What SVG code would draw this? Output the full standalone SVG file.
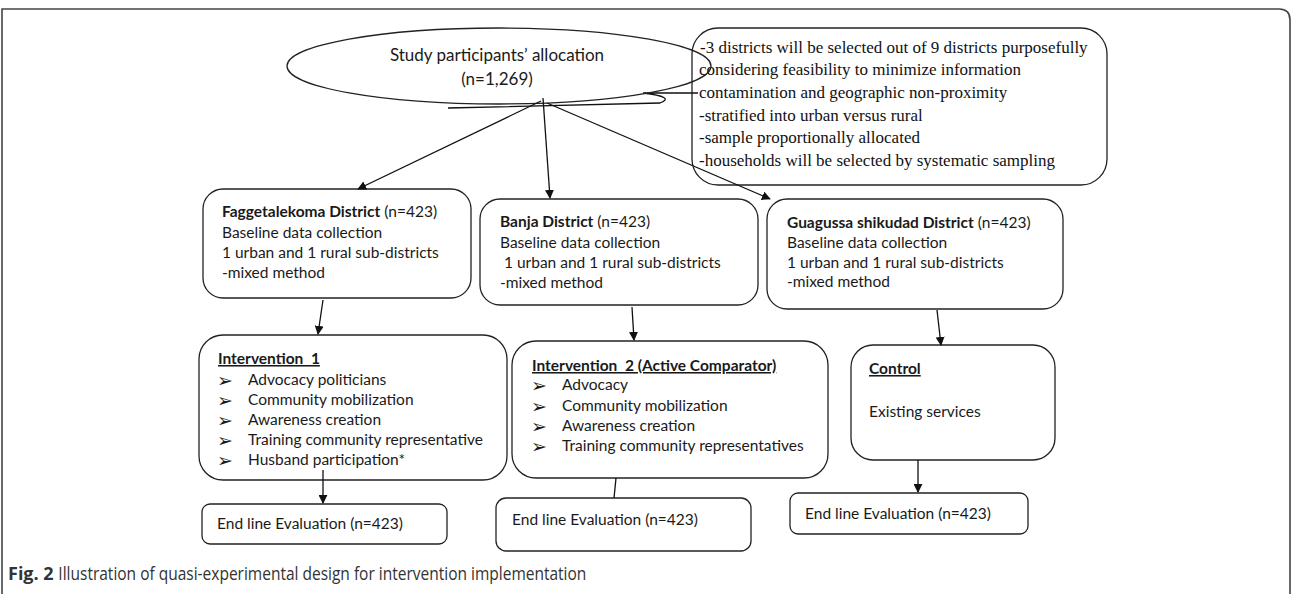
<svg xmlns="http://www.w3.org/2000/svg" width="1292" height="594" viewBox="0 0 1292 594">
<style>
  .box{fill:#fff;stroke:#222;stroke-width:1.3}
  .open{fill:none;stroke:#222;stroke-width:1.3}
  .t{font-family:Lato,"Open Sans","DejaVu Sans",sans-serif;font-size:15.5px;fill:#1a1a1a}
  .b{font-weight:bold}
  .u{font-weight:bold;text-decoration:underline;white-space:pre}
  .bul{font-family:"DejaVu Sans",sans-serif;font-size:19px;fill:#1a1a1a}
  .serif{font-family:"Liberation Serif","Times New Roman",serif;font-size:17px;fill:#111}
  .con{stroke:#111;stroke-width:1.3;fill:none}
  .frame{fill:none;stroke:#444;stroke-width:1.6}
</style>
<defs>
  <marker id="ah" viewBox="0 0 10 10" refX="9" refY="5" markerWidth="9" markerHeight="9" markerUnits="userSpaceOnUse" orient="auto">
    <path d="M0,0 L10,5 L0,10 z" fill="#111"/>
  </marker>
</defs>
<rect width="1292" height="594" fill="#fff"/>
<path class="frame" d="M2,600 V9 H1279 Q1290,9 1290,20 V600"/>

<g id="note">
  <rect class="open" x="692" y="28" width="415" height="157" rx="26"/>
  <path class="con" d="M698,93 H643 Q676,97 660,103 L448,108"/>
  <text class="serif" x="700" y="53">-3 districts will be selected out of 9 districts purposefully</text>
  <text class="serif" x="699" y="75">considering feasibility to minimize information</text>
  <text class="serif" x="699" y="98">contamination and geographic non-proximity</text>
  <text class="serif" x="699" y="121">-stratified into urban versus rural</text>
  <text class="serif" x="699" y="143">-sample proportionally allocated</text>
  <text class="serif" x="699" y="166">-households will be selected by systematic sampling</text>
</g>

<g id="allocation">
  <ellipse cx="499" cy="66" rx="212" ry="38" class="open"/>
  <text class="t" x="497" y="61" text-anchor="middle" style="font-size:17px">Study participants’ allocation</text>
  <text class="t" x="497" y="85" text-anchor="middle" style="font-size:17px">(n=1,269)</text>
</g>

<g id="district1">
  <rect class="box" x="203" y="189" width="268" height="109" rx="20"/>
  <text class="t" x="222" y="217"><tspan class="b">Faggetalekoma District</tspan> (n=423)</text>
  <text class="t" x="222" y="238">Baseline data collection</text>
  <text class="t" x="222" y="258">1 urban and 1 rural sub-districts</text>
  <text class="t" x="222" y="278">-mixed method</text>
</g>

<g id="district2">
  <rect class="box" x="480" y="199" width="278" height="106" rx="20"/>
  <text class="t" x="500" y="227"><tspan class="b">Banja District</tspan> (n=423)</text>
  <text class="t" x="500" y="248">Baseline data collection</text>
  <text class="t" x="500" y="268" style="white-space:pre"> 1 urban and 1 rural sub-districts</text>
  <text class="t" x="500" y="288">-mixed method</text>
</g>

<g id="district3">
  <rect class="box" x="767" y="199" width="296" height="110" rx="20"/>
  <text class="t" x="787" y="228"><tspan class="b">Guagussa shikudad District</tspan> (n=423)</text>
  <text class="t" x="787" y="248">Baseline data collection</text>
  <text class="t" x="787" y="268">1 urban and 1 rural sub-districts</text>
  <text class="t" x="787" y="287">-mixed method</text>
</g>

<g id="intervention1">
  <rect class="box" x="199" y="335" width="308" height="145" rx="24"/>
  <text class="t u" x="218" y="364">Intervention  1</text>
  <text class="bul" x="217" y="387">➢</text><text class="t" x="248" y="385">Advocacy politicians</text>
  <text class="bul" x="217" y="407">➢</text><text class="t" x="248" y="405">Community mobilization</text>
  <text class="bul" x="217" y="427">➢</text><text class="t" x="248" y="425">Awareness creation</text>
  <text class="bul" x="217" y="447">➢</text><text class="t" x="248" y="445">Training community representative</text>
  <text class="bul" x="217" y="467">➢</text><text class="t" x="248" y="465">Husband participation*</text>
</g>

<g id="intervention2">
  <rect class="box" x="512" y="341" width="316" height="137" rx="24"/>
  <text class="t u" x="532" y="371">Intervention  2 (Active Comparator)</text>
  <text class="bul" x="531" y="392">➢</text><text class="t" x="562" y="390">Advocacy</text>
  <text class="bul" x="531" y="413">➢</text><text class="t" x="562" y="411">Community mobilization</text>
  <text class="bul" x="531" y="433">➢</text><text class="t" x="562" y="431">Awareness creation</text>
  <text class="bul" x="531" y="453">➢</text><text class="t" x="562" y="451">Training community representatives</text>
</g>

<g id="control">
  <rect class="box" x="851" y="345" width="204" height="115" rx="22"/>
  <text class="t u" x="869" y="374">Control</text>
  <text class="t" x="869" y="417">Existing services</text>
</g>

<g id="endline1">
  <rect class="box" x="202" y="504" width="245" height="40" rx="8"/>
  <text class="t" x="217" y="529">End line Evaluation (n=423)</text>
</g>
<g id="endline2">
  <rect class="box" x="496" y="498" width="255" height="53" rx="10"/>
  <text class="t" x="512" y="525">End line Evaluation (n=423)</text>
</g>
<g id="endline3">
  <rect class="box" x="790" y="493" width="238" height="41" rx="8"/>
  <text class="t" x="805" y="519">End line Evaluation (n=423)</text>
</g>

<g id="connectors">
  <line class="con" x1="541" y1="101" x2="358" y2="189" marker-end="url(#ah)"/>
  <line class="con" x1="543" y1="98" x2="550" y2="198" marker-end="url(#ah)"/>
  <line class="con" x1="547" y1="103" x2="770" y2="199" marker-end="url(#ah)"/>
  <line class="con" x1="323" y1="300" x2="318" y2="334" marker-end="url(#ah)"/>
  <line class="con" x1="632" y1="307" x2="634" y2="340" marker-end="url(#ah)"/>
  <line class="con" x1="937" y1="310" x2="941" y2="345" marker-end="url(#ah)"/>
  <line class="con" x1="323" y1="470" x2="323" y2="503" marker-end="url(#ah)"/>
  <line class="con" x1="616" y1="478" x2="614" y2="498"/>
  <line class="con" x1="918" y1="460" x2="918" y2="492" marker-end="url(#ah)"/>
</g>

<g id="caption">
  <text x="8" y="580" style="font-family:'Open Sans','Noto Sans',sans-serif;font-size:18px;fill:#333"><tspan font-weight="bold">Fig. 2</tspan> <tspan textLength="528" lengthAdjust="spacingAndGlyphs">Illustration of quasi-experimental design for intervention implementation</tspan></text>
</g>
</svg>
